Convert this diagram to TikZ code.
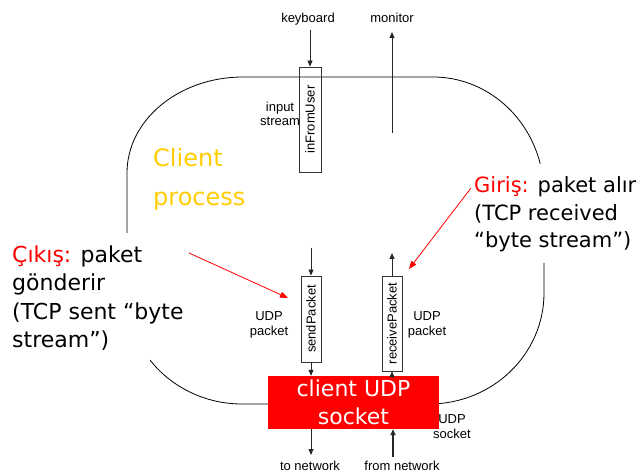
\documentclass[tikz,border=0pt]{standalone}
\usepackage{fontspec}
\setmainfont{Liberation Sans}
\newfontfamily\handfont{DejaVu Sans}
\usetikzlibrary{arrows.meta,calc}
\definecolor{procyellow}{RGB}{255,204,0}
\begin{document}
\begin{tikzpicture}[x=1pt,y=1pt,
  small/.style={font=\fontsize{13}{14.5}\selectfont, inner sep=0pt, align=center},
  big/.style={font=\handfont\fontsize{22}{28.5}\selectfont, inner sep=0pt, align=left},
  buffer/.style={draw=black!80, line width=0.8pt, rotate=90, inner sep=0pt,
    font=\fontsize{13}{14}\selectfont},
  arr/.style={-{Triangle[length=6pt,width=5pt]}, line width=0.8pt, black!85},
  redarr/.style={-{Triangle[length=8pt,width=6pt]}, line width=0.8pt, red},
  outline/.style={line width=0.8pt}]
\useasboundingbox (0,0) rectangle (642,474);

% process outline (two open pieces)
\draw[outline] (127,241) -- (127,301) arc[start angle=180,end angle=90,x radius=116,y radius=96]
  -- (433,397) arc[start angle=90,end angle=15,x radius=111,y radius=117];
\draw[outline] (544,211) -- (544,181) arc[start angle=0,end angle=-90,x radius=115,y radius=111]
  -- (242,70) arc[start angle=270,end angle=217,x radius=115,y radius=110];

% socket
\node[fill=red, minimum width=171, minimum height=53, inner sep=0pt,
  text=white, align=center, font=\handfont\fontsize{22}{28}\selectfont]
  (sock) at (353.5,71.5) {client UDP\\socket};

% stream buffers
\node[buffer, minimum width=105, minimum height=22] (inuser) at (310,354.5) {inFromUser};
\node[buffer, minimum width=86, minimum height=20] (send) at (311,155) {sendPacket};
\node[buffer, minimum width=95, minimum height=20] (recv) at (392,150.5) {receivePacket};

% small labels (base = baseline of the last line)
\node[small, anchor=base] (kbd) at (308,451) {keyboard};
\node[small, anchor=base] (mon) at (392,451) {monitor};
\node[small, anchor=base] (instream) at (280,348) {input\\stream};
\node[small, anchor=base] (udpl) at (269,139) {UDP\\packet};
\node[small, anchor=base] (udpr) at (427,139) {UDP\\packet};
\node[small, anchor=base] (udps) at (452,36) {UDP\\socket};
\node[small, anchor=base] (tonet) at (310,4) {to network};
\node[small, anchor=base] (fromnet) at (402,4) {from network};

% big texts
\node[big, anchor=base west, text=procyellow, font=\handfont\fontsize{24}{39}\selectfont]
  (client) at (153,268) {Client\\process};
\node[big, anchor=base west] (out) at (12,126)
  {\textcolor{red}{Çıkış:} paket\\gönderir\\(TCP sent “byte\\stream”)};
\node[big, anchor=base west, font=\handfont\fontsize{21}{27.5}\selectfont] (in) at (474,226)
  {\textcolor{red}{Giriş:} paket alır\\(TCP received\\“byte stream”)};

% connectors
\coordinate (kbdend) at (310,444);
\draw[arr] (kbdend) -- (inuser.east);
\coordinate (monbot) at (392,341);
\coordinate (montop) at (392,442);
\draw[arr] (monbot) -- (montop);
\coordinate (sendin) at (311,226);
\draw[arr] (sendin) -- (send.east);
\draw[arr] (send.west) -- (send.west |- sock.north);
\coordinate (recvout) at (392,221);
\draw[arr] (recv.east) -- (recvout);
\draw[arr] (recv.west |- sock.north) -- (recv.west);
\coordinate (tonetend) at (311,19);
\draw[arr] (send.west |- sock.south) -- (tonetend);
\coordinate (fromnetstart) at (393,17);
\draw[arr, line width=1.6pt] (fromnetstart) -- (fromnetstart |- sock.south);

% red pointers
\coordinate (outfrom) at (189,221);
\coordinate (outto) at (288,176);
\draw[redarr] (outfrom) -- (outto);
\coordinate (infrom) at (471,286);
\coordinate (into) at (409,205);
\draw[redarr] (infrom) -- (into);
\end{tikzpicture}
\end{document}
